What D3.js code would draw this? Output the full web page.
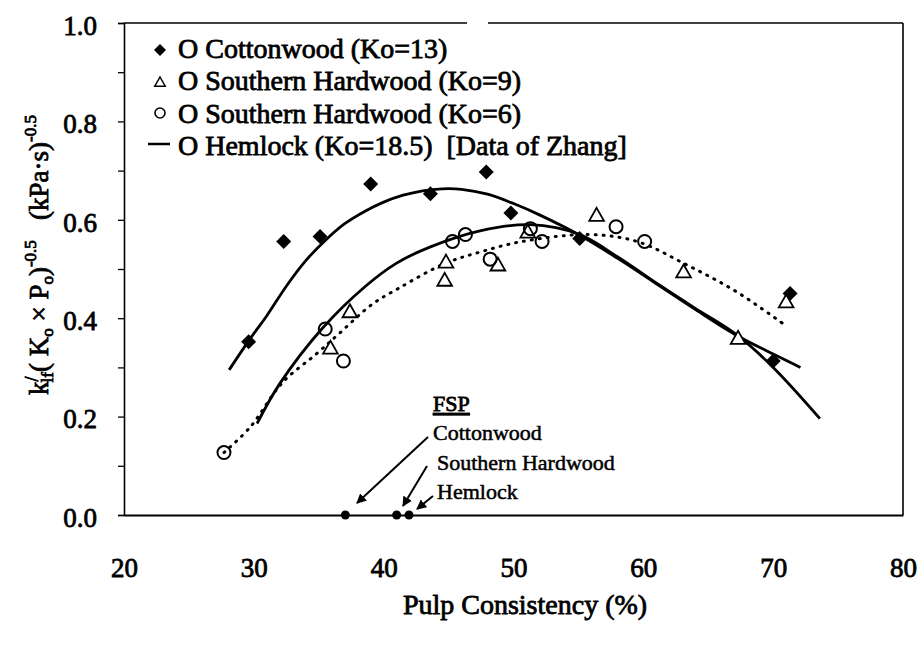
<!DOCTYPE html>
<html>
<head>
<meta charset="utf-8">
<script src="https://cdn.jsdelivr.net/npm/d3@7"></script>
<style>
  body { margin: 0; background: #fff; }
  svg text { font-family: "Liberation Serif", "Times New Roman", serif; }
  .heavy { stroke: #000; stroke-width: 0.8px; }
</style>
</head>
<body>
<div id="chart"></div>
<script>
// data
const cottonX = [29.6, 32.3, 35.1, 39.0, 43.6, 47.9, 49.8, 55.1, 70.0, 71.3];
const cottonY = [0.352, 0.556, 0.566, 0.673, 0.653, 0.697, 0.614, 0.562, 0.313, 0.450];

const shw9X = [35.9, 37.4, 44.7, 44.8, 48.8, 51.1, 56.4, 63.1, 67.3, 71.0];
const shw9Y = [0.340, 0.414, 0.478, 0.515, 0.509, 0.576, 0.610, 0.495, 0.360, 0.434];

const shw6X = [27.7, 35.5, 36.9, 45.3, 46.3, 48.2, 51.3, 52.2, 57.9, 60.1];
const shw6Y = [0.127, 0.378, 0.313, 0.556, 0.570, 0.520, 0.582, 0.556, 0.586, 0.556];

// fitted curves (traced)
const cottonFitX = [28.1, 29.6, 31.0, 32.5, 34.0, 35.5, 37.0, 38.6, 40.0, 41.5, 43.0, 44.5, 46.0, 48.0, 50.0, 52.0, 55.0, 58.0, 61.0, 64.0, 67.0, 70.0, 72.1];
const cottonFitY = [0.295, 0.354, 0.405, 0.465, 0.517, 0.558, 0.592, 0.618, 0.636, 0.650, 0.659, 0.663, 0.662, 0.652, 0.633, 0.610, 0.570, 0.522, 0.470, 0.418, 0.368, 0.327, 0.300];

const hemlockFitX = [30.25, 32.0, 35.3, 38.6, 41.0, 43.6, 47.5, 51.3, 55.1, 58.0, 61.2, 64.0, 67.1, 70.0, 73.6];
const hemlockFitY = [0.186, 0.267, 0.380, 0.465, 0.512, 0.545, 0.578, 0.590, 0.570, 0.525, 0.468, 0.420, 0.368, 0.300, 0.196];

const shwFitX = [27.7, 29.7, 32.2, 34.8, 36.5, 39.1, 41.1, 44.7, 47.5, 50.5, 55.7, 59.5, 63.3, 67.1, 70.7];
const shwFitY = [0.127, 0.178, 0.269, 0.327, 0.367, 0.428, 0.460, 0.511, 0.535, 0.555, 0.570, 0.556, 0.509, 0.455, 0.390];

// FSP points on the x axis
const fspX = [37.05, 41.0, 41.95];
const fspNames = ['Cottonwood', 'Southern Hardwood', 'Hemlock'];

const xTicks = [20, 30, 40, 50, 60, 70, 80];
const yTicks = [0, 0.1, 0.2, 0.3, 0.4, 0.5, 0.6, 0.7, 0.8, 0.9, 1.0];
const yLabelTicks = [0, 0.2, 0.4, 0.6, 0.8, 1.0];

const legendLabels = [
  'O Cottonwood (Ko=13)',
  'O Southern Hardwood (Ko=9)',
  'O Southern Hardwood (Ko=6)',
  'O Hemlock (Ko=18.5)  [Data of Zhang]'
];

const width = 922;
const height = 645;
const plotLeft = 124, plotRight = 903, plotTop = 23, plotBottom = 515;

const xScale = d3.scaleLinear().domain([20, 80]).range([plotLeft, plotRight]);
const yScale = d3.scaleLinear().domain([0, 1]).range([plotBottom, plotTop]);

const svg = d3.select('#chart')
  .append('svg')
    .attr('width', width)
    .attr('height', height);

// arrow marker
svg.append('defs').append('marker')
    .attr('id', 'arrow')
    .attr('viewBox', '0 0 10 10')
    .attr('refX', 9)
    .attr('refY', 5)
    .attr('markerWidth', 10)
    .attr('markerHeight', 10)
    .attr('markerUnits', 'userSpaceOnUse')
    .attr('orient', 'auto')
  .append('path')
    .attr('d', 'M0,0L10,5L0,10Z')
    .attr('fill', '#000');

// frame: top (with a gap) and right
svg.append('line')
    .attr('x1', plotLeft).attr('x2', 467).attr('y1', plotTop).attr('y2', plotTop)
    .attr('stroke', '#000').attr('stroke-width', 1.6);
svg.append('line')
    .attr('x1', 488).attr('x2', plotRight).attr('y1', plotTop).attr('y2', plotTop)
    .attr('stroke', '#000').attr('stroke-width', 1.6);
svg.append('line')
    .attr('x1', plotRight).attr('x2', plotRight).attr('y1', plotTop).attr('y2', plotBottom)
    .attr('stroke', '#000').attr('stroke-width', 1.6);

// y axis
const yAxis = svg.append('g')
  .attr('transform', `translate(${plotLeft},0)`)
  .attr('font-family', null)
  .call(d3.axisLeft(yScale)
    .tickValues(yTicks)
    .tickSize(6)
    .tickPadding(21)
    .tickFormat(d => yLabelTicks.some(v => Math.abs(v - d) < 1e-9) ? d3.format('.1f')(d) : ''));
yAxis.attr('font-family', null).attr('font-size', null);
yAxis.select('.domain').attr('stroke-width', 1.6);
yAxis.selectAll('.tick line').attr('stroke-width', 1.3);
yAxis.selectAll('text')
  .attr('class', 'heavy')
  .attr('font-size', 27)
  .attr('dy', '0.42em');

// x axis
const xAxis = svg.append('g')
  .attr('transform', `translate(0,${plotBottom})`)
  .call(d3.axisBottom(xScale)
    .tickValues(xTicks)
    .tickSize(0)
    .tickPadding(43)
    .tickFormat(d3.format('d')));
xAxis.attr('font-family', null).attr('font-size', null);
xAxis.select('.domain').attr('stroke-width', 2);
xAxis.selectAll('text')
  .attr('class', 'heavy')
  .attr('font-size', 27);

// axis titles
svg.append('text')
  .attr('class', 'heavy')
  .attr('x', 525)
  .attr('y', 614)
  .attr('text-anchor', 'middle')
  .attr('font-size', 28)
  .text('Pulp Consistency (%)');

const yTitle = svg.append('text')
  .attr('class', 'heavy')
  .attr('transform', 'translate(48,255) rotate(-90)')
  .attr('text-anchor', 'middle')
  .attr('font-size', 27);
yTitle.append('tspan').text('k');
yTitle.append('tspan').attr('font-size', 18).attr('dy', -10).text('/');
yTitle.append('tspan').attr('font-size', 17).attr('dx', -6).attr('dy', 15).text('lf');
yTitle.append('tspan').attr('dy', -5).text('( K');
yTitle.append('tspan').attr('font-size', 17).attr('dy', 5).text('o');
yTitle.append('tspan').attr('dy', -5).text(' \u00d7 P');
yTitle.append('tspan').attr('font-size', 17).attr('dy', 5).text('o');
yTitle.append('tspan').attr('dy', -5).text(')');
yTitle.append('tspan').attr('font-size', 17).attr('dy', -12).text('-0.5');
yTitle.append('tspan').attr('dy', 12).text('\u00a0\u00a0\u00a0(kPa\u00b7s)');
yTitle.append('tspan').attr('font-size', 17).attr('dy', -12).text('-0.5');

// fitted curves
const line = d3.line()
  .x(d => xScale(d[0]))
  .y(d => yScale(d[1]))
  .curve(d3.curveCatmullRom);

svg.append('path')
  .datum(d3.zip(shwFitX, shwFitY))
  .attr('d', line)
  .attr('fill', 'none')
  .attr('stroke', '#000')
  .attr('stroke-width', 3)
  .attr('stroke-linecap', 'round')
  .attr('stroke-dasharray', '1,7');

svg.append('path')
  .datum(d3.zip(cottonFitX, cottonFitY))
  .attr('d', line)
  .attr('fill', 'none')
  .attr('stroke', '#000')
  .attr('stroke-width', 2.8);

svg.append('path')
  .datum(d3.zip(hemlockFitX, hemlockFitY))
  .attr('d', line)
  .attr('fill', 'none')
  .attr('stroke', '#000')
  .attr('stroke-width', 2.8);

// markers
const diamond = s => `M0,${-s}L${s},0L0,${s}L${-s},0Z`;
const triangle = s => `M0,${-s}L${s * 1.05},${s * 0.85}L${-s * 1.05},${s * 0.85}Z`;

svg.append('g').selectAll('path')
  .data(d3.zip(cottonX, cottonY))
  .enter()
    .append('path')
      .attr('transform', d => `translate(${xScale(d[0])},${yScale(d[1])})`)
      .attr('d', diamond(7.5))
      .attr('fill', '#000');

svg.append('g').selectAll('path')
  .data(d3.zip(shw9X, shw9Y))
  .enter()
    .append('path')
      .attr('transform', d => `translate(${xScale(d[0])},${yScale(d[1])})`)
      .attr('d', triangle(7))
      .attr('fill', '#fff')
      .attr('stroke', '#000')
      .attr('stroke-width', 1.8);

svg.append('g').selectAll('circle')
  .data(d3.zip(shw6X, shw6Y))
  .enter()
    .append('circle')
      .attr('cx', d => xScale(d[0]))
      .attr('cy', d => yScale(d[1]))
      .attr('r', 6.5)
      .attr('fill', 'none')
      .attr('stroke', '#000')
      .attr('stroke-width', 2);

// FSP points, labels and arrows
svg.append('g').selectAll('circle')
  .data(fspX)
  .enter()
    .append('circle')
      .attr('cx', d => xScale(d))
      .attr('cy', yScale(0))
      .attr('r', 4.5)
      .attr('fill', '#000');

const fspText = svg.append('g')
  .attr('font-size', 22);
fspText.append('text')
  .attr('class', 'heavy')
  .attr('x', 433)
  .attr('y', 411)
  .attr('text-decoration', 'underline')
  .text('FSP');
fspText.selectAll('text.name')
  .data(fspNames)
  .enter()
    .append('text')
      .attr('class', 'name')
      .attr('x', (d, i) => i === 0 ? 433 : 437)
      .attr('y', (d, i) => 440 + i * 29.5)
      .attr('stroke', '#000')
      .attr('stroke-width', 0.5)
      .text(d => d);

const arrowStarts = [[428, 437], [427, 466], [433, 496]];
const arrowEnds = [[357, 503], [403, 506], [417, 509]];
svg.append('g').selectAll('line')
  .data(d3.zip(arrowStarts, arrowEnds))
  .enter()
    .append('line')
      .attr('x1', d => d[0][0]).attr('y1', d => d[0][1])
      .attr('x2', d => d[1][0]).attr('y2', d => d[1][1])
      .attr('stroke', '#000')
      .attr('stroke-width', 2)
      .attr('marker-end', 'url(#arrow)');

// legend
const legend = svg.append('g');
legend.selectAll('text')
  .data(legendLabels)
  .enter()
    .append('text')
      .attr('class', 'heavy')
      .attr('x', 178)
      .attr('y', (d, i) => 58 + i * 32.3)
      .attr('font-size', 28)
      .style('white-space', 'pre')
      .text(d => d);

legend.append('path')
  .attr('transform', 'translate(160,50)')
  .attr('d', diamond(6))
  .attr('fill', '#000');
legend.append('path')
  .attr('transform', 'translate(160,82)')
  .attr('d', triangle(5))
  .attr('fill', '#fff')
  .attr('stroke', '#000')
  .attr('stroke-width', 1.5);
legend.append('circle')
  .attr('cx', 160).attr('cy', 113)
  .attr('r', 5)
  .attr('fill', 'none')
  .attr('stroke', '#000')
  .attr('stroke-width', 1.6);
legend.append('line')
  .attr('x1', 148).attr('x2', 170)
  .attr('y1', 144).attr('y2', 144)
  .attr('stroke', '#000')
  .attr('stroke-width', 2.5);
</script>
</body>
</html>
